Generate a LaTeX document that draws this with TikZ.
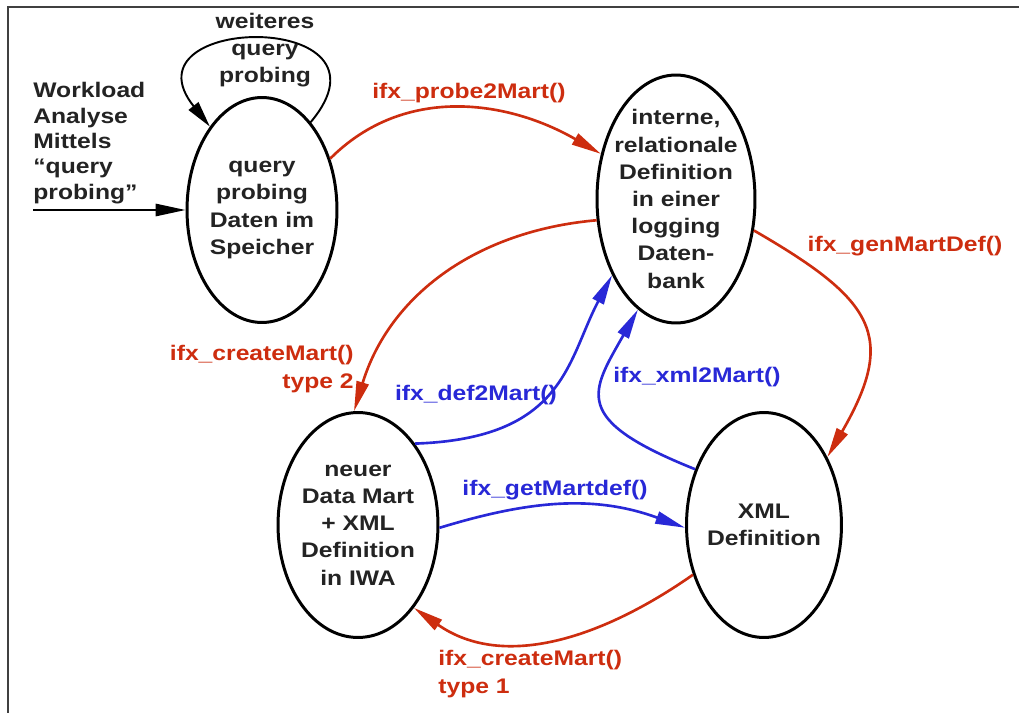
\documentclass[tikz,border=0pt]{standalone}
\usepackage{fontspec}
\setmainfont{Liberation Sans}[FakeStretch=1.17]
\usetikzlibrary{arrows.meta,shapes.geometric}
\definecolor{probered}{RGB}{205,45,15}
\definecolor{probeblue}{RGB}{40,40,215}
\definecolor{inktext}{RGB}{35,35,35}

\begin{document}
\begin{tikzpicture}[x=0.02cm,y=-0.02cm,
	every node/.style={font=\bfseries\fontsize{12}{15.5}\selectfont, text=inktext, align=center},
	state/.style={draw=black, line width=1.7pt, ellipse, inner sep=-6pt},
	blackarc/.style={draw=black, line width=1.1pt, -{Triangle[length=17pt,width=7pt]}},
	redarc/.style={draw=probered, line width=1.5pt, -{Triangle[length=17pt,width=7pt]}},
	bluearc/.style={draw=probeblue, line width=1.5pt, -{Triangle[length=17pt,width=7pt]}},
	redlabel/.style={text=probered},
	bluelabel/.style={text=probeblue}]
	\useasboundingbox (0,0) rectangle (1019,713);
	\draw[line width=1.2pt, black!75] (8,713) -- (8,7) -- (1019,7);
	
	\node[state, minimum width=3cm, minimum height=4.5cm] (q) at (262,210) {query\\probing\\Daten im\\Speicher};
	\node[state, minimum width=3.16cm, minimum height=4.96cm] (d) at (676,199) {interne,\\relationale\\Definition\\in einer\\logging\\Daten-\\bank};
	\node[state, minimum width=3.2cm, minimum height=4.5cm] (m) at (358,525) {neuer\\Data Mart\\+ XML\\Definition\\in IWA};
	\node[state, minimum width=3.1cm, minimum height=4.5cm] (x) at (764,525) {XML\\Definition};
	
	\coordinate (wl) at (33,210);
	\node[anchor=west, align=left, inner sep=0pt, font=\bfseries\fontsize{12}{14.4}\selectfont] (wlnote) at (33,143) {Workload\\Analyse\\Mittels\\“query\\probing”};
	\draw[blackarc] (wl) -- (q.west);
	
	\draw[draw=black, line width=1.1pt, -{Triangle[length=15pt,width=7pt]}] (q.61) .. controls +(95,-113) and +(-90,-113) .. (q.122);
	\node (loopnote) at (265,50) {weiteres\\query\\probing};
	
	\draw[redarc] (q.37) to[out=45, in=150] (d.149);
	\node[redlabel] (probelab) at (469,93) {ifx\_probe2Mart()};
	
	\draw[redarc] (d.-22) to[out=-30, in=60, looseness=1.5] (x.47);
	\node[redlabel] (genlab) at (905,246) {ifx\_genMartDef()};
	
	\draw[redarc] (d.195) to[out=185, in=73] (m.92);
	\node[redlabel, anchor=east, align=right, inner sep=0pt] (type2lab) at (354,369) {ifx\_createMart()\\type 2};
	
	\draw[bluearc] (m.55) .. controls +(150,-5) and +(-45,85) .. (d.230);
	\node[bluelabel] (deflab) at (476,395) {ifx\_def2Mart()};
	
	\draw[bluearc] (x.141) .. controls +(-125,-50) and +(-47,83) .. (d.251);
	\node[bluelabel] (xmllab) at (697,377) {ifx\_xml2Mart()};
	
	\draw[bluearc] (m.-2) to[out=17, in=160] (x.182);
	\node[bluelabel] (getlab) at (555,490) {ifx\_getMartdef()};
	
	\draw[redarc] (x.215) to[out=215, in=-35] (m.-56);
	\node[redlabel, anchor=west, align=left, inner sep=0pt] (type1lab) at (438,674) {ifx\_createMart()\\type 1};
	
\end{tikzpicture}
\end{document}
